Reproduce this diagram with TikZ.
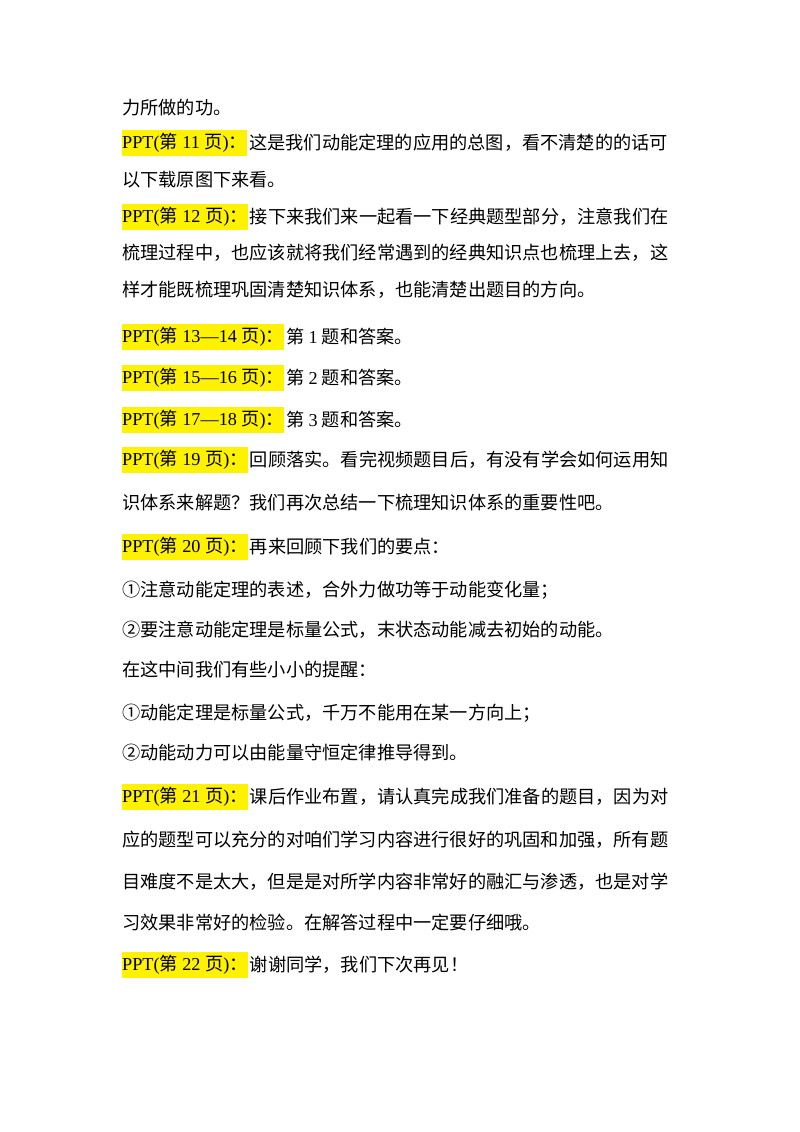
\documentclass[tikz,border=0pt]{standalone}
\usepackage{fontspec}
\setmainfont{Liberation Serif}
\newfontfamily\cjk{Noto Sans CJK SC}
\newcommand{\zh}[1]{{\cjk #1}}
\begin{document}
\begin{tikzpicture}[x=1pt,y=1pt,
  every node/.style={font=\fontsize{18.2}{20}\selectfont\cjk,anchor=west,inner sep=0pt},
  hl/.style={fill=yellow,minimum height=26pt,inner xsep=0pt},
  txt/.style={inner xsep=2pt}]
\useasboundingbox (0,0) rectangle (800,-1132);
\newcommand{\ppt}[1]{{\rmfamily PPT(}\zh{第}{\rmfamily\ #1\ }\zh{页}{\rmfamily )}\zh{：}}
\node (l1) at (122,-108) {力所做的功。};
\node[hl] (h11) at (122,-143) {\ppt{11}};
\node[txt,anchor=west] (t11) at (h11.east) {这是我们动能定理的应用的总图，看不清楚的的话可};
\node (l3) at (122,-180) {以下载原图下来看。};
\node[hl] (h12) at (122,-217) {\ppt{12}};
\node[txt] (t12) at (h12.east) {接下来我们来一起看一下经典题型部分，注意我们在};
\node (l5) at (122,-253) {梳理过程中，也应该就将我们经常遇到的经典知识点也梳理上去，这};
\node (l6) at (122,-290) {样才能既梳理巩固清楚知识体系，也能清楚出题目的方向。};
\node[hl] (h13) at (122,-337) {\ppt{13—14}};
\node[txt] (t13) at (h13.east) {第 {\rmfamily 1} 题和答案。};
\node[hl] (h15) at (122,-378) {\ppt{15—16}};
\node[txt] (t15) at (h15.east) {第 {\rmfamily 2} 题和答案。};
\node[hl] (h17) at (122,-420) {\ppt{17—18}};
\node[txt] (t17) at (h17.east) {第 {\rmfamily 3} 题和答案。};
\node[hl] (h19) at (122,-460) {\ppt{19}};
\node[txt] (t19) at (h19.east) {回顾落实。看完视频题目后，有没有学会如何运用知};
\node (l11) at (122,-503) {识体系来解题？我们再次总结一下梳理知识体系的重要性吧。};
\node[hl] (h20) at (122,-547) {\ppt{20}};
\node[txt] (t20) at (h20.east) {再来回顾下我们的要点：};
\node (l13) at (122,-590) {①注意动能定理的表述，合外力做功等于动能变化量；};
\node (l14) at (122,-630) {②要注意动能定理是标量公式，末状态动能减去初始的动能。};
\node (l15) at (122,-670) {在这中间我们有些小小的提醒：};
\node (l16) at (122,-713) {①动能定理是标量公式，千万不能用在某一方向上；};
\node (l17) at (122,-753) {②动能动力可以由能量守恒定律推导得到。};
\node[hl] (h21) at (122,-797) {\ppt{21}};
\node[txt] (t21) at (h21.east) {课后作业布置，请认真完成我们准备的题目，因为对};
\node (l19) at (122,-840) {应的题型可以充分的对咱们学习内容进行很好的巩固和加强，所有题};
\node (l20) at (122,-882) {目难度不是太大，但是是对所学内容非常好的融汇与渗透，也是对学};
\node (l21) at (122,-923) {习效果非常好的检验。在解答过程中一定要仔细哦。};
\node[hl] (h22) at (122,-965) {\ppt{22}};
\node[txt] (t22) at (h22.east) {谢谢同学，我们下次再见！};
\end{tikzpicture}
\end{document}
